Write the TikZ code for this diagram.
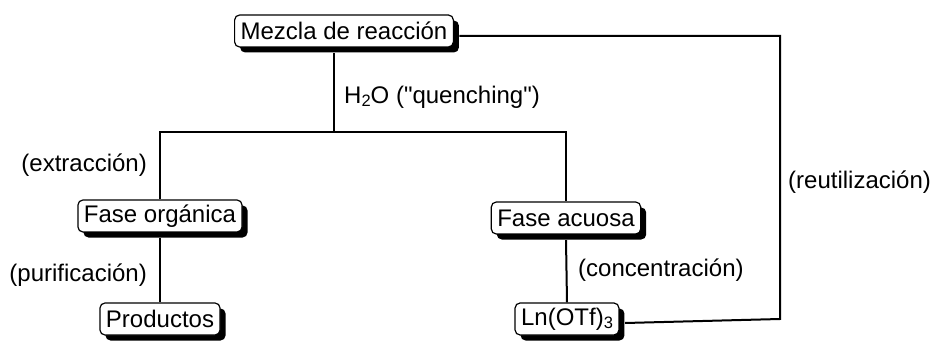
\documentclass[tikz,border=0pt]{standalone}
\usepackage{fontspec}
\setmainfont{Liberation Sans}
\usetikzlibrary{shadows}
\newcommand{\mysub}[1]{\raisebox{-0.28ex}{\fontsize{16.5}{16.5}\selectfont #1}}
\begin{document}
\begin{tikzpicture}[x=1pt,y=1pt,
  every node/.style={font=\fontsize{24}{26}\selectfont},
  stagebox/.style={draw, rounded corners=5pt, fill=white, line width=1.2pt,
    minimum height=32pt, inner xsep=6pt, inner ysep=2pt,
    drop shadow={shadow xshift=5.5pt, shadow yshift=-5.5pt, fill=black, opacity=1}},
  conn/.style={line width=2pt},
  lbl/.style={inner sep=0pt}]
\useasboundingbox (0,0) rectangle (933,340);
\node[stagebox] (m) at (344,309) {Mezcla de reacción};
\node[stagebox] (fo) at (160,124) {Fase orgánica};
\node[stagebox] (fa) at (566,122) {Fase acuosa};
\node[stagebox] (p) at (160,21) {Productos};
\node[stagebox] (ln) at (567,21) {Ln(OTf)\mysub{3}};
\coordinate (j) at (334,208);
\coordinate (r) at (780,0);
\draw[conn] ([xshift=-10pt,yshift=-5.5pt]m.south) -- (j);
\draw[conn] (fo.north) |- (j) -| (fa.north);
\draw[conn] ([yshift=-5.5pt]fo.south) -- (p.north);
\draw[conn] ([yshift=-5.5pt]fa.south) -- (ln.north);
\draw[conn] ([shift={(5.5pt,-5pt)}]m.east) -| (r |- ln.east) coordinate (rb)
  -- ([shift={(5.5pt,-4pt)}]ln.east);
\node[lbl, anchor=west] (h2o) at (344,243) {H\mysub{2}O (\textquotedbl quenching\textquotedbl)};
\node[lbl, anchor=east] (ex) at (147,175) {(extracción)};
\node[lbl, anchor=east] (pu) at (147,65) {(purificación)};
\node[lbl, anchor=west] (co) at (578,70) {(concentración)};
\node[lbl, anchor=west] (re) at (788,158) {(reutilización)};
\end{tikzpicture}
\end{document}
